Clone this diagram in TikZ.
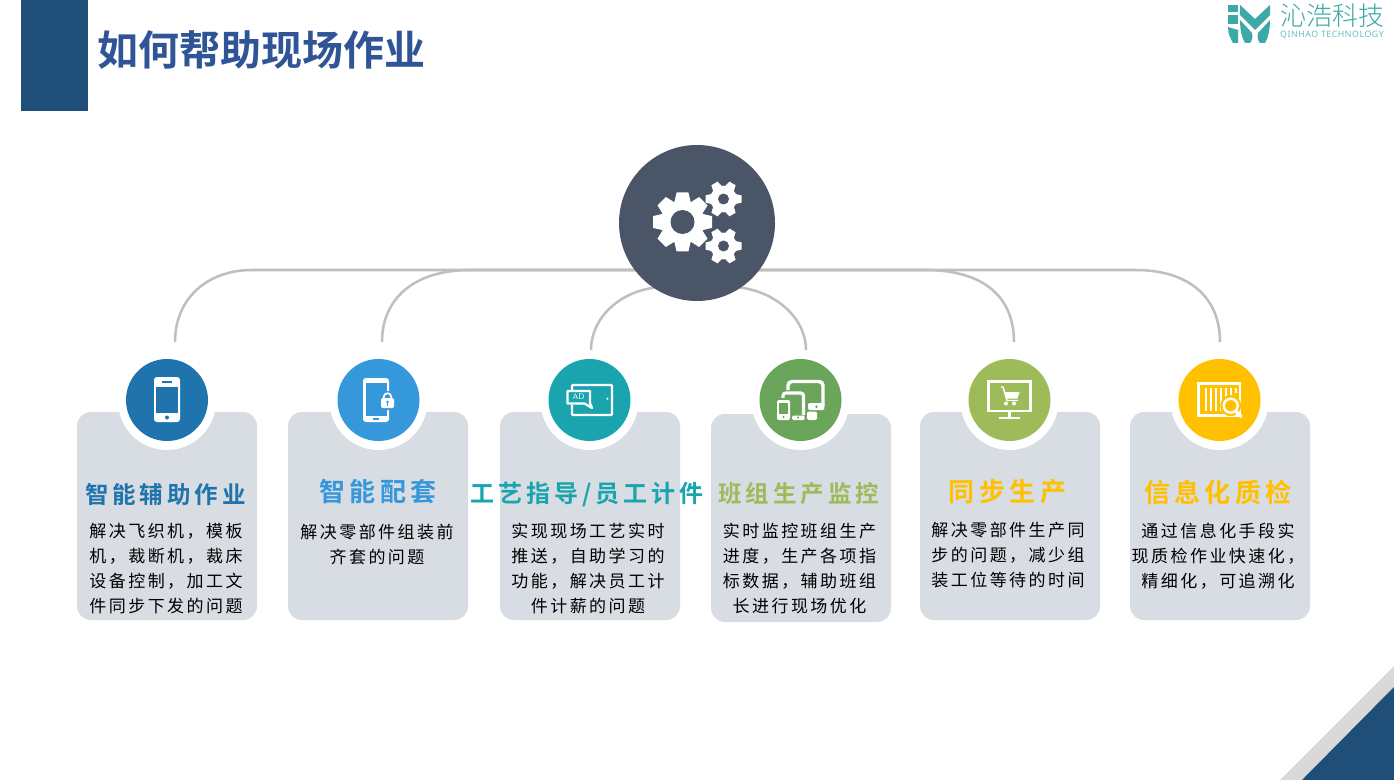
\documentclass[tikz,border=0pt]{standalone}
\usepackage{fontspec}
\setmainfont{Noto Sans CJK SC}
\newfontfamily\bodyf[LetterSpace=14.5]{Noto Sans CJK SC}
\newfontfamily\headf[LetterSpace=17]{Noto Sans CJK SC Bold}
\newfontfamily\mainhead{Noto Sans CJK SC Bold}
\newfontfamily\logof{Noto Sans CJK SC Light}
\newfontfamily\logolat[LetterSpace=6]{Noto Sans}
\newcommand{\fsl}[2]{\pgfmathsetmacro\fsa{#1*0.75}\pgfmathsetmacro\fsb{#2*0.75}\fontsize{\fsa}{\fsb}\selectfont}
\newcommand{\fs}[1]{\fsl{#1}{#1}}
\definecolor{navy}{HTML}{1F4E79}
\definecolor{titleblue}{HTML}{2F5597}
\definecolor{cardgray}{HTML}{D8DCE3}
\definecolor{hubcol}{HTML}{4B5568}
\definecolor{linegray}{HTML}{BFBFBF}
\definecolor{cblue}{HTML}{1F74AD}
\definecolor{cblueb}{HTML}{3498DB}
\definecolor{cteal}{HTML}{1AA5AE}
\definecolor{cgreen}{HTML}{6BA55C}
\definecolor{clime}{HTML}{9DBB59}
\definecolor{cgold}{HTML}{FFC000}
\definecolor{logoteal}{HTML}{3BA9A5}
\tikzset{
  x=0.75pt,y=-0.75pt,
  cardbox/.style={fill=cardgray,rounded corners=10.5pt},
  halo/.style={circle,fill=white,minimum size=73.5pt,inner sep=0pt},
  dot/.style={circle,minimum size=61.5pt,inner sep=0pt},
  link/.style={draw=linegray,line width=1.9pt},
  heada/.style={font=\headf\fs{23.5},inner sep=0pt},
  headb/.style={font=\headf\fs{26},inner sep=0pt},
  bodytxt/.style={font=\bodyf\fsl{17}{25},inner sep=0pt,text=black,align=center},
  ico/.style={draw=white,line width=1.7pt,fill=none}
}
\newcommand{\gear}[6]{% cx cy outer-r hole-r teeth offset
  \begin{scope}[shift={(#1,#2)}]
    \fill[white] (0,0) circle[radius=#3*0.74];
    \foreach \a in {1,...,#5}{
      \fill[white,rotate=\a*360/#5+#6] (-#3*0.27,0) -- (-#3*0.27,-#3*0.7) -- (-#3*0.2,-#3) -- (#3*0.2,-#3) -- (#3*0.27,-#3*0.7) -- (#3*0.27,0) -- cycle;
    }
    \fill[hubcol] (0,0) circle[radius=#4];
  \end{scope}}
\begin{document}
\begin{tikzpicture}
\useasboundingbox (0,0) rectangle (1394,780);
\fill[white] (0,0) rectangle (1394,780);
% header
\fill[navy] (21,0) rectangle (88,111);
\node[font=\mainhead\fs{41},text=titleblue,anchor=center,inner sep=0pt] (maintitle) at (261,49.5) {如何帮助现场作业};
% logo
\begin{scope}[logoteal]
  \fill (1228,5) rectangle (1238,12);
  \fill (1228,15) rectangle (1238,24);
  \fill (1228,27) -- (1238,30) -- (1238,43) -- (1233,43) .. controls (1230,38) and (1228,33) .. (1228,27) -- cycle;
  \fill (1240,5) -- (1255,19) -- (1270,5) -- (1270,15) -- (1255,30) -- (1240,15) -- cycle;
  \fill (1240,20) -- (1252,33) .. controls (1253,37) and (1252,41) .. (1250,43) -- (1245,43) .. controls (1242,38) and (1240,30) .. (1240,20) -- cycle;
  \fill (1270,20) -- (1258,33) .. controls (1257,37) and (1258,41) .. (1260,43) -- (1265,43) .. controls (1268,38) and (1270,30) .. (1270,20) -- cycle;
\end{scope}
\node[font=\logof\fs{26},text=logoteal,inner sep=0pt] (logotext) at (1332,16) {沁浩科技};
\node[font=\logolat\fs{8.8},text=logoteal!75,inner sep=0pt] (logosub) at (1332,35) {QINHAO TECHNOLOGY};
% corner
\fill[black!15] (1394,666) -- (1394,780) -- (1280,780) -- cycle;
\fill[navy] (1394,687) -- (1394,780) -- (1302,780) -- cycle;
% anchors of connectors
\coordinate (e1) at (175,342);
\coordinate (e2) at (382,342);
\coordinate (e3) at (591,350);
\coordinate (e4) at (806,350);
\coordinate (e5) at (1014,342);
\coordinate (e6) at (1220,342);
\coordinate (hubc) at (697,270);
\coordinate (hubl) at (660,287);
\coordinate (hubr) at (735,287);
% connectors
\draw[link] (e1) .. controls (175,298) and (208,270) .. (252,270) -- (hubc);
\draw[link] (e2) .. controls (382,298) and (415,270) .. (470,270) -- (hubc);
\draw[link] (e3) .. controls (591,318) and (620,290) .. (hubl);
\draw[link] (e4) .. controls (806,318) and (775,290) .. (hubr);
\draw[link] (e5) .. controls (1014,298) and (985,270) .. (925,270) -- (hubc);
\draw[link] (e6) .. controls (1220,298) and (1190,270) .. (1135,270) -- (hubc);
% hub
\node[circle,fill=hubcol,minimum size=117pt,inner sep=0pt] (hub) at (697,223) {};
\gear{682.5}{222}{29.5}{12}{8}{0}
\gear{723.5}{199}{18}{5.5}{6}{30}
\gear{723.5}{246}{18}{5.5}{6}{30}
% cards
\fill[cardbox] (77,412) rectangle (257,620);
\fill[cardbox] (288,412) rectangle (468,620);
\fill[cardbox] (500,412) rectangle (680,620);
\fill[cardbox] (711,414) rectangle (891,622);
\fill[cardbox] (920,412) rectangle (1100,620);
\fill[cardbox] (1130,412) rectangle (1310,620);
% circles
\foreach \n/\cx/\col in {a/167/cblue,b/378.5/cblueb,c/589.5/cteal,d/800.5/cgreen,e/1009.5/clime,f/1219.5/cgold}{
  \node[halo] (halo\n) at (\cx,401) {};
  \node[dot,fill=\col] (dot\n) at (\cx,400) {};
}
% icon 1: phone
\begin{scope}[shift={(167,400)}]
  \fill[white,rounded corners=2.2pt] (-13,-23) rectangle (13,22);
  \fill[cblue] (-11,-13) rectangle (11,13);
  \fill[cblue] (-5,-19) rectangle (5,-17.5);
  \fill[cblue] (0,17.5) circle[radius=2];
\end{scope}
% icon 2: phone with lock
\begin{scope}[shift={(378,400)}]
  \fill[white,rounded corners=2.2pt] (-15,-22) rectangle (11,22);
  \fill[cblueb] (-12,-17) rectangle (9,16);
  \fill[cblueb] (-5,18) rectangle (1,19.5);
  \fill[cblueb,rounded corners=2pt] (1,-9) rectangle (18,10);
  \fill[white,rounded corners=1pt] (3,-2) rectangle (16,8);
  \draw[white,line width=1.3pt] (5.7,-2) -- (5.7,-3) arc[start angle=180,end angle=360,radius=3.8] -- (13.3,-2);
  \fill[cblueb] (9.5,2) circle[radius=1.4];
  \fill[cblueb] (9,2) rectangle (10,5.5);
\end{scope}
% icon 3: tablet with AD
\begin{scope}[shift={(589.5,400)}]
  \draw[ico,rounded corners=0.7pt] (-17.5,-15) rectangle (22.5,15);
  \fill[white] (18,-1.3) circle[radius=1.1];
  \fill[cteal] (-23,-10) rectangle (1,5);
  \draw[ico,line join=round] (-22,-9) -- (0.5,-9) -- (0.5,3) -- (2.5,8) -- (-5,3.5) -- (-22,3.5) -- cycle;
  \node[font=\sffamily\fs{8},text=white,inner sep=0pt] (adtxt) at (-11,-3) {AD};
\end{scope}
% icon 4: devices
\begin{scope}[shift={(800,400)}]
  \draw[white,line width=2.6pt,rounded corners=3pt] (-12,-10) -- (-12,-18.5) -- (23,-18.5) -- (23,6);
  \fill[white,rounded corners=1pt] (8,3) rectangle (24.3,10);
  \fill[white,rounded corners=1.5pt] (7,11.5) rectangle (17,20);
  \fill[cgreen] (16.5,6.7) circle[radius=1.4];
  \draw[white,line width=2.3pt,rounded corners=2pt] (-17,-2) -- (-17,-7) -- (3.5,-7) -- (3.5,15);
  \fill[white,rounded corners=1pt] (-8,15.5) rectangle (4.6,20);
  \fill[cgreen] (-2,17.5) circle[radius=1.1];
  \fill[cgreen] (-25,-2) rectangle (-8,22);
  \fill[white,rounded corners=1.5pt] (-23,0) rectangle (-10,20);
  \fill[cgreen] (-21,3) rectangle (-12,14);
  \fill[cgreen] (-16.5,17) circle[radius=1.2];
\end{scope}
% icon 5: monitor with cart
\begin{scope}[shift={(1009,400)}]
  \draw[ico] (-20.5,-18.5) rectangle (21.5,11);
  \fill[white] (-1,12) rectangle (1.5,17);
  \fill[white] (-10,17) rectangle (11,19.3);
  \draw[white,line width=1.1pt] (-8,-13) -- (-6,-13) -- (-2,0.5) -- (9,0.5);
  \fill[white] (-5,-8) -- (10.5,-8) -- (8.5,-1.5) -- (-3.2,-1.5) -- cycle;
  \fill[white] (-3,3.5) circle[radius=2];
  \fill[white] (5,3.5) circle[radius=2];
\end{scope}
% icon 6: barcode with magnifier
\begin{scope}[shift={(1219,400)}]
  \draw[ico] (-20.5,-16.5) rectangle (21,15.5);
  \foreach \bx in {-14.5,-9.5,-4.5,0.5}{\fill[white] (\bx,-12) rectangle (\bx+2.2,10.7);}
  \fill[white] (5.5,-12) rectangle (7.7,-3);
  \fill[white] (10.5,-12) rectangle (12.7,-5);
  \fill[white] (15.5,-12) rectangle (17.5,-7);
  \fill[cgold] (11.7,5.7) circle[radius=10.5];
  \draw[white,line width=1.8pt] (11.7,5.7) circle[radius=7];
  \draw[white,line width=2.6pt,line cap=round] (16.7,11) -- (22,16.5);
\end{scope}
% headings
\node[heada,text=cblue] (h1) at (165.5,494) {智能辅助作业};
\node[headb,text=cblueb] (h2) at (378,492) {智能配套};
\node[heada,font=\headf\fs{24},text=cteal] (h3) at (587,494) {工艺指导/员工计件};
\node[heada,text=clime] (h4) at (799,494) {班组生产监控};
\node[headb,text=cgold] (h5) at (1007.5,492) {同步生产};
\node[headb,text=cgold] (h6) at (1218,492) {信息化质检};
% body
\node[bodytxt,anchor=north] (b1) at (166,523) {解决飞织机，模板\\机，裁断机，裁床\\设备控制，加工文\\件同步下发的问题};
\node[bodytxt,anchor=north] (b2) at (377,524) {解决零部件组装前\\齐套的问题};
\node[bodytxt,anchor=north] (b3) at (588,523) {实现现场工艺实时\\推送，自助学习的\\功能，解决员工计\\件计薪的问题};
\node[bodytxt,anchor=north] (b4) at (799.5,523) {实时监控班组生产\\进度，生产各项指\\标数据，辅助班组\\长进行现场优化};
\node[bodytxt,anchor=north] (b5) at (1008,522) {解决零部件生产同\\步的问题，减少组\\装工位等待的时间};
\node[bodytxt,anchor=north] (b6) at (1218,523) {通过信息化手段实\\现质检作业快速化，\\精细化，可追溯化};
\end{tikzpicture}
\end{document}
